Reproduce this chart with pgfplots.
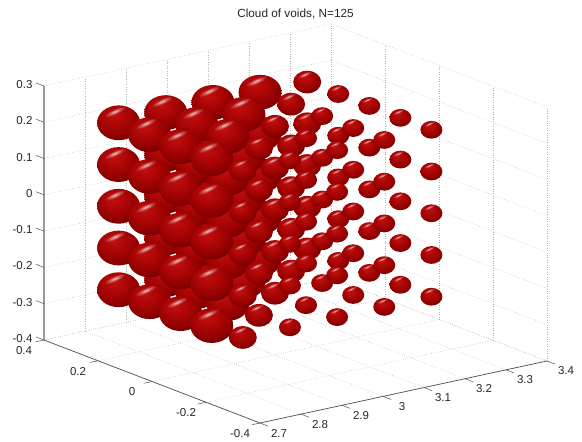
\documentclass[border=0pt]{standalone}
\usepackage{fontspec}
\setmainfont{Liberation Sans}
\usepackage{pgfplots}
\pgfplotsset{compat=1.18}

% sphere look, lit from upper left
\pgfdeclareradialshading{voidball}{\pgfpoint{-6bp}{12bp}}{%
  rgb(0bp)=(0.76,0.06,0.06);
  rgb(14bp)=(0.67,0.02,0.02);
  rgb(26bp)=(0.56,0,0);
  rgb(40bp)=(0.34,0,0);
  rgb(70bp)=(0.27,0,0)}
% soft tilted streak: #1 scale, #2 opacity
\newcommand\voidstreak[2]{%
  \pgfscope
  \pgfsetfillcolor{white}\pgfsetfillopacity{#2}%
  \pgfpathellipse{\pgfqpoint{-0.15\pgfplotmarksize}{0.50\pgfplotmarksize}}%
    {\pgfqpoint{#1\dimexpr0.36\pgfplotmarksize\relax}{#1\dimexpr0.16\pgfplotmarksize\relax}}%
    {\pgfqpoint{-#1\dimexpr0.03\pgfplotmarksize\relax}{#1\dimexpr0.09\pgfplotmarksize\relax}}%
  \pgfusepath{fill}%
  \endpgfscope}
\pgfdeclareplotmark{void}{%
  \pgfpathellipse{\pgfpointorigin}{\pgfqpoint{\pgfplotmarksize}{0pt}}{\pgfqpoint{0pt}{0.81\pgfplotmarksize}}%
  \pgfshadepath{voidball}{0}%
  \pgfusepath{discard}%
  \voidstreak{1.3}{0.10}\voidstreak{1.0}{0.16}\voidstreak{0.7}{0.24}\voidstreak{0.4}{0.35}}

\definecolor{axisgray}{HTML}{505050}
\definecolor{gridgray}{HTML}{B4B4B4}

\begin{document}
\begin{tikzpicture}
\begin{axis}[
    x={(410pt,88.6pt)}, y={(-270pt,103.75pt)}, z={(0pt,362.9pt)},
    clip=false,
    xmin=2.7, xmax=3.4, ymin=-0.4, ymax=0.4, zmin=-0.4, zmax=0.3,
    xtick={2.7,2.8,2.9,3,3.1,3.2,3.3,3.4},
    xticklabels={2.7,2.8,2.9,3,3.1,3.2,3.3,3.4},
    ytick={-0.4,-0.2,0,0.2,0.4},
    yticklabels={-0.4,-0.2,0,0.2,0.4},
    ztick={-0.4,-0.3,-0.2,-0.1,0,0.1,0.2,0.3},
    zticklabels={-0.4,-0.3,-0.2,-0.1,0,0.1,0.2,0.3},
    grid=major,
    grid style={dotted, gridgray, line width=0.7pt},
    axis line style={draw=none},
    tick pos=left,
    major tick length=0pt,
    tick style={draw=none},
    tick label style={font=\fontsize{11.5}{13}\selectfont, text=black!85},
    x tick label style={anchor=center, xshift=19pt, yshift=-10pt},
    y tick label style={anchor=center, xshift=-20pt, yshift=-10.5pt},
    z tick label style={anchor=east, xshift=-8pt, yshift=1.5pt},
    title={Cloud of voids, N=125},
    title style={font=\fontsize{11.8}{13}\selectfont, text=black!85, yshift=-5pt},
  ]
  \draw[axisgray, line width=0.7pt] (axis cs:2.7,0.4,-0.4) -- (axis cs:2.7,-0.4,-0.4) -- (axis cs:3.4,-0.4,-0.4);
  \draw[black!40, line width=1.2pt] (axis cs:2.7,0.4,-0.4) -- (axis cs:2.7,0.4,0.3);
  % ticks run along the floor, away from the box
  \pgfplotsinvokeforeach{2.7,2.8,2.9,3,3.1,3.2,3.3,3.4}{
    \draw[axisgray, line width=0.5pt] (axis cs:#1,-0.4,-0.4) -- (axis cs:#1,-0.43,-0.4);}
  \pgfplotsinvokeforeach{-0.4,-0.2,0,0.2,0.4}{
    \draw[axisgray, line width=0.5pt] (axis cs:2.7,#1,-0.4) -- (axis cs:2.68,#1,-0.4);}
  \pgfplotsinvokeforeach{-0.4,-0.3,-0.2,-0.1,0,0.1,0.2,0.3}{
    \draw[axisgray, line width=0.5pt] (axis cs:2.7,0.4,#1) -- (axis cs:2.7,0.43,#1);}
  \coordinate (bl) at (axis cs:2.7,0.4,-0.4);
  \addplot3[
    scatter, only marks, mark=void,
    visualization depends on={\thisrow{r} \as \perpointmarksize},
    scatter/@pre marker code/.append style={/tikz/mark size=\perpointmarksize},
  ] table[row sep=\\] {
    x y z r\\
    3.23 0.23 -0.23 14\\ 3.23 0.23 -0.115 14\\ 3.23 0.23 0 14\\ 3.23 0.23 0.115 14\\ 3.23 0.23 0.23 14\\
    3.23 0.115 -0.23 11\\ 3.23 0.115 -0.115 11\\ 3.23 0.115 0 11\\ 3.23 0.115 0.115 11\\ 3.23 0.115 0.23 11\\
    3.23 0 -0.23 11\\ 3.23 0 -0.115 11\\ 3.23 0 0 11\\ 3.23 0 0.115 11\\ 3.23 0 0.23 11\\
    3.23 -0.115 -0.23 11\\ 3.23 -0.115 -0.115 11\\ 3.23 -0.115 0 11\\ 3.23 -0.115 0.115 11\\ 3.23 -0.115 0.23 11\\
    3.23 -0.23 -0.23 11\\ 3.23 -0.23 -0.115 11\\ 3.23 -0.23 0 11\\ 3.23 -0.23 0.115 11\\ 3.23 -0.23 0.23 11\\
    3.115 0.23 -0.23 21.5\\ 3.115 0.23 -0.115 21.5\\ 3.115 0.23 0 21.5\\ 3.115 0.23 0.115 21.5\\ 3.115 0.23 0.23 21.5\\
    3.115 0.115 -0.23 14\\ 3.115 0.115 -0.115 14\\ 3.115 0.115 0 14\\ 3.115 0.115 0.115 14\\ 3.115 0.115 0.23 14\\
    3.115 0 -0.23 11\\ 3.115 0 -0.115 11\\ 3.115 0 0 11\\ 3.115 0 0.115 11\\ 3.115 0 0.23 11\\
    3.115 -0.115 -0.23 11\\ 3.115 -0.115 -0.115 11\\ 3.115 -0.115 0 11\\ 3.115 -0.115 0.115 11\\ 3.115 -0.115 0.23 11\\
    3.115 -0.23 -0.23 11\\ 3.115 -0.23 -0.115 11\\ 3.115 -0.23 0 11\\ 3.115 -0.23 0.115 11\\ 3.115 -0.23 0.23 11\\
    3 0.23 -0.23 21.5\\ 3 0.23 -0.115 21.5\\ 3 0.23 0 21.5\\ 3 0.23 0.115 21.5\\ 3 0.23 0.23 21.5\\
    3 0.115 -0.23 21.5\\ 3 0.115 -0.115 21.5\\ 3 0.115 0 21.5\\ 3 0.115 0.115 21.5\\ 3 0.115 0.23 21.5\\
    3 0 -0.23 14\\ 3 0 -0.115 14\\ 3 0 0 14\\ 3 0 0.115 14\\ 3 0 0.23 14\\
    3 -0.115 -0.23 11\\ 3 -0.115 -0.115 11\\ 3 -0.115 0 11\\ 3 -0.115 0.115 11\\ 3 -0.115 0.23 11\\
    3 -0.23 -0.23 11\\ 3 -0.23 -0.115 11\\ 3 -0.23 0 11\\ 3 -0.23 0.115 11\\ 3 -0.23 0.23 11\\
    2.885 0.23 -0.23 21.5\\ 2.885 0.23 -0.115 21.5\\ 2.885 0.23 0 21.5\\ 2.885 0.23 0.115 21.5\\ 2.885 0.23 0.23 21.5\\
    2.885 0.115 -0.23 21.5\\ 2.885 0.115 -0.115 21.5\\ 2.885 0.115 0 21.5\\ 2.885 0.115 0.115 21.5\\ 2.885 0.115 0.23 21.5\\
    2.885 0 -0.23 21.5\\ 2.885 0 -0.115 21.5\\ 2.885 0 0 21.5\\ 2.885 0 0.115 21.5\\ 2.885 0 0.23 21.5\\
    2.885 -0.115 -0.23 14\\ 2.885 -0.115 -0.115 14\\ 2.885 -0.115 0 14\\ 2.885 -0.115 0.115 14\\ 2.885 -0.115 0.23 14\\
    2.885 -0.23 -0.23 11\\ 2.885 -0.23 -0.115 11\\ 2.885 -0.23 0 11\\ 2.885 -0.23 0.115 11\\ 2.885 -0.23 0.23 11\\
    2.77 0.23 -0.23 21.5\\ 2.77 0.23 -0.115 21.5\\ 2.77 0.23 0 21.5\\ 2.77 0.23 0.115 21.5\\ 2.77 0.23 0.23 21.5\\
    2.77 0.115 -0.23 21.5\\ 2.77 0.115 -0.115 21.5\\ 2.77 0.115 0 21.5\\ 2.77 0.115 0.115 21.5\\ 2.77 0.115 0.23 21.5\\
    2.77 0 -0.23 21.5\\ 2.77 0 -0.115 21.5\\ 2.77 0 0 21.5\\ 2.77 0 0.115 21.5\\ 2.77 0 0.23 21.5\\
    2.77 -0.115 -0.23 21.5\\ 2.77 -0.115 -0.115 21.5\\ 2.77 -0.115 0 21.5\\ 2.77 -0.115 0.115 21.5\\ 2.77 -0.115 0.23 21.5\\
    2.77 -0.23 -0.23 14\\ 2.77 -0.23 -0.115 14\\ 2.77 -0.23 0 14\\ 2.77 -0.23 0.115 14\\ 2.77 -0.23 0.23 14\\
  };
\end{axis}
% page frame, pixels measured from the lower left box corner
\path ([shift={(-44pt,-102pt)}]bl) rectangle ([shift={(538pt,340pt)}]bl);
\end{tikzpicture}
\end{document}
